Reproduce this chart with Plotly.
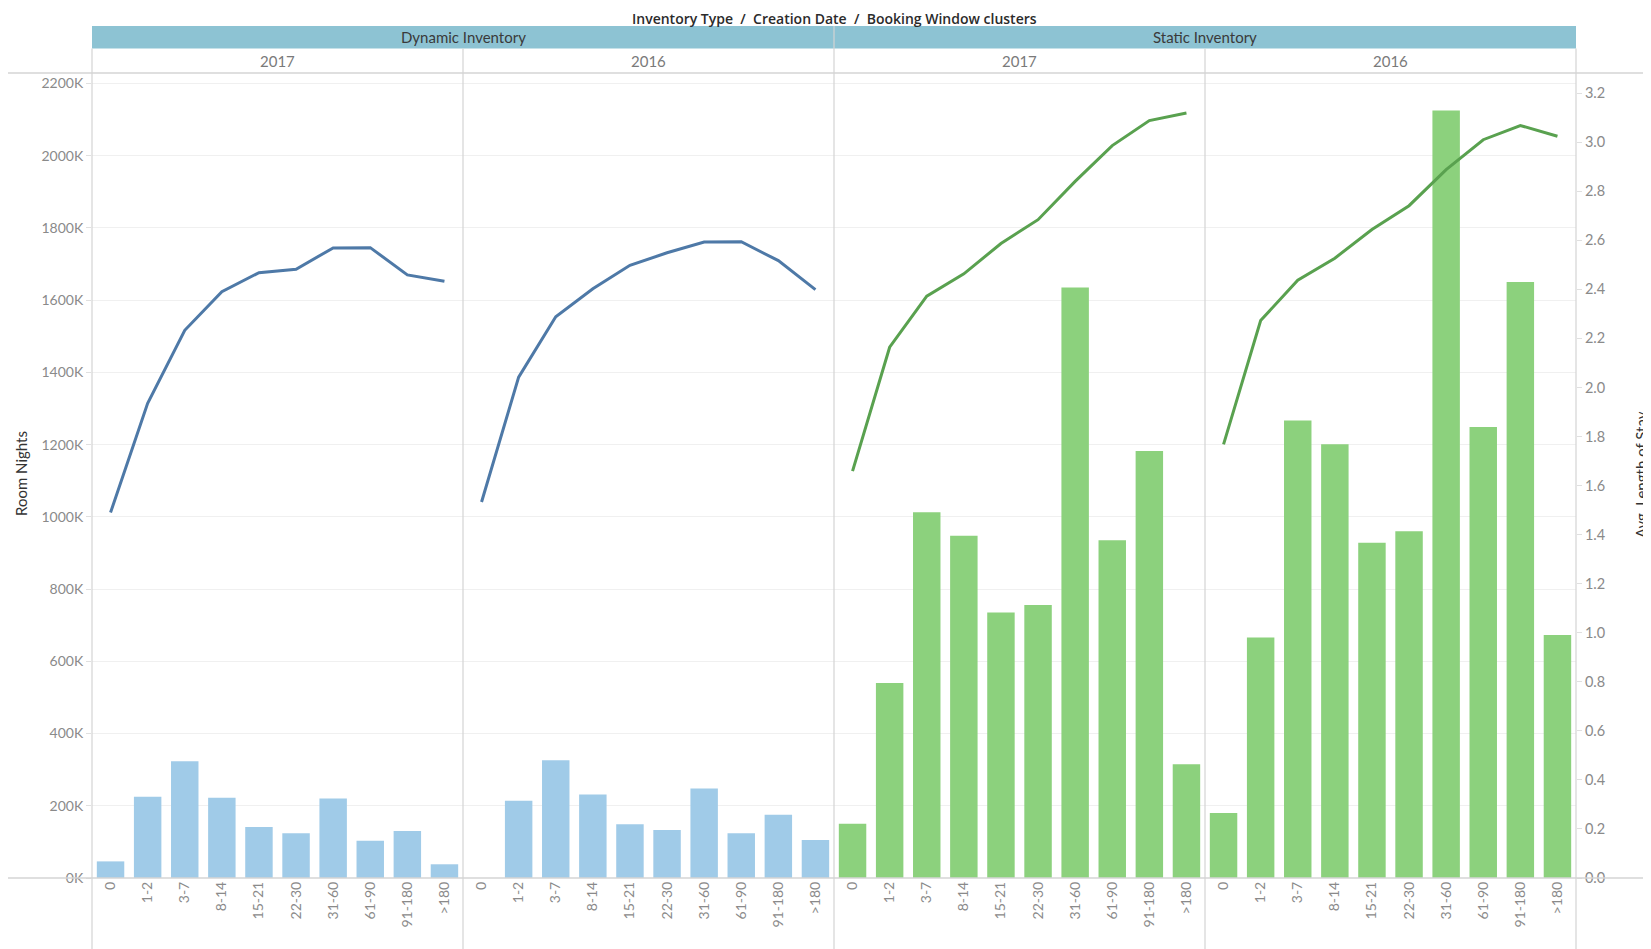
import plotly.graph_objects as go
from plotly.subplots import make_subplots

# ---------------- data ----------------
clusters = ["0", "1-2", "3-7", "8-14", "15-21", "22-30", "31-60", "61-90", "91-180", ">180"]
inventory_types = ["Dynamic Inventory", "Dynamic Inventory", "Static Inventory", "Static Inventory"]
creation_years = ["2017", "2016", "2017", "2016"]

dyn_2017_nights = [46000, 225000, 323000, 222000, 141000, 124000, 220000, 103000, 130000, 38000]
dyn_2016_nights = [0, 214000, 326000, 231000, 149000, 133000, 248000, 124000, 175000, 105000]
sta_2017_nights = [150000, 540000, 1013000, 948000, 735000, 756000, 1635000, 935000, 1182000, 315000]
sta_2016_nights = [180000, 666000, 1267000, 1201000, 928000, 960000, 2125000, 1249000, 1650000, 673000]

dyn_2017_los = [1.490, 1.935, 2.233, 2.390, 2.468, 2.482, 2.569, 2.570, 2.459, 2.433]
dyn_2016_los = [1.533, 2.042, 2.288, 2.402, 2.498, 2.549, 2.593, 2.594, 2.517, 2.399]
sta_2017_los = [1.659, 2.164, 2.372, 2.463, 2.587, 2.684, 2.840, 2.986, 3.088, 3.119]
sta_2016_los = [1.768, 2.273, 2.437, 2.527, 2.644, 2.741, 2.888, 3.010, 3.068, 3.024]

nights_ticks = [0, 200000, 400000, 600000, 800000, 1000000, 1200000, 1400000,
                1600000, 1800000, 2000000, 2200000]
nights_ticktext = [f"{v // 1000}K" for v in nights_ticks]

nights_series = [dyn_2017_nights, dyn_2016_nights, sta_2017_nights, sta_2016_nights]
los_series = [dyn_2017_los, dyn_2016_los, sta_2017_los, sta_2016_los]

bar_colors = {"Dynamic Inventory": "#a0cbe8", "Static Inventory": "#8cd17d"}
line_colors = {"Dynamic Inventory": "#4e79a7", "Static Inventory": "#59a14f"}

# ---------------- geometry (page has an 8px body margin) ----------------
OFF = 8
W, H = 1651 - OFF, 949 - OFF
L, T = 92 - OFF, 73 - OFF
R = W - (1576 - OFF)
B = H - (878 - OFF)
PW = W - L - R
PH = H - T - B


def px_x(px):  # px in page (reference) coordinates
    return (px - OFF - L) / PW


def px_y(py):
    return (H - B - (py - OFF)) / PH


fig = make_subplots(rows=1, cols=4, specs=[[{"secondary_y": True}] * 4],
                    horizontal_spacing=0)

for i in range(4):
    inv = inventory_types[i]
    fig.add_trace(go.Bar(x=clusters, y=nights_series[i], marker_color=bar_colors[inv],
                         marker_line_width=0, showlegend=False),
                  row=1, col=i + 1, secondary_y=False)
    fig.add_trace(go.Scatter(x=clusters, y=los_series[i], mode="lines",
                             line=dict(color=line_colors[inv], width=3),
                             showlegend=False),
                  row=1, col=i + 1, secondary_y=True)

font_family = "Lato, 'Open Sans', sans-serif"
tick_font = dict(family=font_family, size=14, color="#8a8a8a")

fig.update_xaxes(type="category", range=[-0.5, 9.5], tickangle=-90, tickfont=tick_font,
                 showgrid=False, showline=False, zeroline=False, ticks="",
                 automargin=False)
for i in range(4):
    key = "xaxis" if i == 0 else f"xaxis{i + 1}"
    fig.layout[key].domain = [i / 4, (i + 1) / 4]

fig.update_yaxes(secondary_y=False, range=[0, 2229000], tickvals=nights_ticks,
                 ticktext=nights_ticktext, showgrid=True, gridcolor="#f0f0f0",
                 gridwidth=1, zeroline=False, showline=False, showticklabels=False,
                 ticks="", automargin=False)
fig.update_yaxes(secondary_y=True, range=[0, 3.282], dtick=0.2, tickformat=".1f",
                 showgrid=False, zeroline=False, showline=False, showticklabels=False,
                 ticks="", automargin=False)
fig.update_yaxes(row=1, col=1, secondary_y=False, showticklabels=True, tickfont=tick_font,
                 ticks="outside", ticklen=5, tickcolor="#e0e0e0")
fig.update_yaxes(row=1, col=4, secondary_y=True, showticklabels=True,
                 tickfont=dict(family=font_family, size=14.5, color="#8a8a8a"),
                 ticks="outside", ticklen=5, tickcolor="#e0e0e0")

line_col = "#d4d4d4"
shapes = []
shapes.append(dict(type="rect", xref="paper", yref="paper", x0=0, x1=1,
                   y0=px_y(48.5), y1=px_y(26), fillcolor="#8dc3d3", line_width=0, layer="below"))
for py in (73, 878):
    shapes.append(dict(type="line", xref="paper", yref="paper", x0=px_x(OFF), x1=px_x(1651),
                       y0=px_y(py), y1=px_y(py), line=dict(color=line_col, width=1.5)))
for k in range(5):
    top = 26 if k == 2 else 48.5
    shapes.append(dict(type="line", xref="paper", yref="paper", x0=k / 4, x1=k / 4,
                       y0=px_y(949), y1=px_y(top), line=dict(color=line_col, width=1.2)))

annotations = []
annotations.append(dict(text="Inventory Type  /  Creation Date  /  Booking Window clusters",
                        xref="paper", yref="paper", x=0.5, y=px_y(8), showarrow=False,
                        borderpad=0,
                        font=dict(family="'Open Sans', sans-serif", size=14, color="#2b2b2b",
                                  weight=600),
                        xanchor="center", yanchor="top"))
for name, xc in (("Dynamic Inventory", 0.25), ("Static Inventory", 0.75)):
    annotations.append(dict(text=name, xref="paper", yref="paper", x=xc,
                            y=px_y(37.5), showarrow=False,
                            font=dict(family=font_family, size=15, color="#3a3a3a"),
                            xanchor="center", yanchor="middle"))
for i in range(4):
    annotations.append(dict(text=creation_years[i], xref="paper", yref="paper",
                            x=(i + 0.5) / 4, y=px_y(61), showarrow=False,
                            font=dict(family=font_family, size=15, color="#7a7a7a"),
                            xanchor="center", yanchor="middle"))
annotations.append(dict(text="Room Nights", xref="paper", yref="paper", x=px_x(21),
                        y=px_y(474), showarrow=False, textangle=-90,
                        font=dict(family=font_family, size=15, color="#333333"),
                        xanchor="center", yanchor="middle"))
annotations.append(dict(text="Avg. Length of Stay", xref="paper", yref="paper",
                        x=px_x(1641), y=px_y(474), showarrow=False, textangle=-90,
                        font=dict(family=font_family, size=15, color="#333333"),
                        xanchor="center", yanchor="middle"))

fig.update_layout(width=W, height=H, margin=dict(l=L, r=R, t=T, b=B, autoexpand=False),
                  plot_bgcolor="white", paper_bgcolor="white", bargap=0.26,
                  shapes=shapes, annotations=annotations, showlegend=False,
                  font=dict(family=font_family))

fig.write_html("out.html")
